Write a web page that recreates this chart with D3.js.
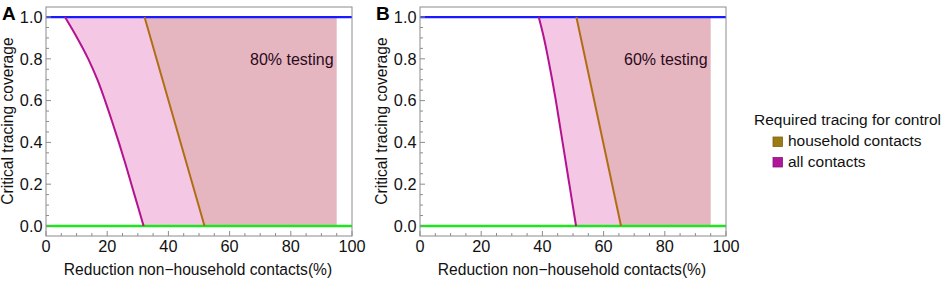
<!DOCTYPE html>
<html><head><meta charset="utf-8">
<script src="https://cdn.jsdelivr.net/npm/d3@7"></script>
<style>
body{margin:0;background:#fff;}
svg{display:block;font-family:"Liberation Sans",Arial,Helvetica,sans-serif;}
</style></head>
<body>
<svg id="chart" width="941" height="281"></svg>
<script>
// ---- data (x = reduction %, y = critical tracing coverage) ----
const panelLabels = ["A", "B"];
const testingLabels = ["80% testing", "60% testing"];
const allContactsA = [[6.2,1],[10.2,0.9],[13.8,0.8],[16.8,0.7],[19.3,0.6],[21.6,0.5],[23.8,0.4],[25.9,0.3],[27.9,0.2],[29.9,0.1],[31.9,0]];
const householdA   = [[32.2,1],[42.0,0.5],[51.8,0]];
const allContactsB = [[38.8,1],[40.5,0.9],[41.9,0.8],[43.2,0.7],[44.4,0.6],[45.5,0.5],[46.6,0.4],[48.8,0.2],[51.0,0]];
const householdB   = [[51.1,1],[58.4,0.5],[65.7,0]];
const fillEnd = [95, 95];
const xTicks = [0, 20, 40, 60, 80, 100];
const yTicks = [0, 0.2, 0.4, 0.6, 0.8, 1.0];
const legendTitle = "Required tracing for control";
const legendItems = ["household contacts", "all contacts"];

const colors = {
  all: "#b5128f", house: "#b06e14", lightFill: "#f4c8e5", darkFill: "#e6b6c0",
  blue: "#1a1aff", green: "#1ee61e", frame: "#8c8c8c",
  legHouse: "#9c7a14", legAll: "#b0169a"
};

const svg = d3.select("#chart");
const panels = [
  {left: 46, all: allContactsA, house: householdA},
  {left: 420, all: allContactsB, house: householdB}
];

panels.forEach((p, i) => {
  const x = d3.scaleLinear().domain([0, 100]).range([p.left, p.left + 306]);
  const y = d3.scaleLinear().domain([-0.048, 1.048]).range([236, 7]);
  const g = svg.append("g");

  const curveLine = d3.line().x(d => x(d[0])).y(d => y(d[1])).curve(d3.curveMonotoneY);
  const allSorted = p.all.slice().sort((a, b) => a[1] - b[1]);   // ascending y
  const allPath = curveLine(allSorted);
  const houseLine = d3.line().x(d => x(d[0])).y(d => y(d[1]));

  // fills: light between magenta curve and brown line, dark from brown line to fillEnd
  const housePts = p.house.map(d => [x(d[0]), y(d[1])]);   // y descending: 1 -> 0
  g.append("path")
    .attr("d", allPath + "L" + housePts.map(q => q.join(",")).join("L") + "Z")
    .attr("fill", colors.lightFill);
  g.append("path")
    .attr("d", d3.line()(housePts.concat([[x(fillEnd[i]), y(0)], [x(fillEnd[i]), y(1)]])) + "Z")
    .attr("fill", colors.darkFill);

  // horizontal lines
  g.append("line").attr("x1", x(0)).attr("x2", x(100)).attr("y1", y(1)).attr("y2", y(1))
    .attr("stroke", colors.blue).attr("stroke-width", 2.2);
  g.append("line").attr("x1", x(0)).attr("x2", x(100)).attr("y1", y(0)).attr("y2", y(0))
    .attr("stroke", colors.green).attr("stroke-width", 2.6);

  // curves
  g.append("path").attr("d", allPath)
    .attr("fill", "none").attr("stroke", colors.all).attr("stroke-width", 2);
  g.append("path").attr("d", houseLine(p.house))
    .attr("fill", "none").attr("stroke", colors.house).attr("stroke-width", 2);

  // frame
  g.append("rect").attr("x", x(0)).attr("y", 7).attr("width", x(100) - x(0)).attr("height", 229)
    .attr("fill", "none").attr("stroke", colors.frame).attr("stroke-width", 1);

  // x ticks (inward)
  d3.range(0, 101, 5).forEach(v => {
    const major = v % 20 === 0;
    g.append("line").attr("x1", x(v)).attr("x2", x(v)).attr("y1", 236).attr("y2", 236 - (major ? 5 : 3))
      .attr("stroke", colors.frame);
  });
  xTicks.forEach(v => {
    g.append("text").attr("x", x(v)).attr("y", 252).attr("text-anchor", "middle")
      .attr("font-size", 16.3).attr("fill", "#111").text(v);
  });
  // y ticks (inward)
  d3.range(0, 21).map(k => k * 0.05).forEach(v => {
    const major = Math.round(v * 100) % 20 === 0;
    g.append("line").attr("x1", x(0)).attr("x2", x(0) + (major ? 5 : 3)).attr("y1", y(v)).attr("y2", y(v))
      .attr("stroke", colors.frame);
  });
  yTicks.forEach(v => {
    g.append("text").attr("x", x(0) - 3.5).attr("y", y(v) + 5.7).attr("text-anchor", "end")
      .attr("font-size", 16.3).attr("fill", "#111").text(v.toFixed(1));
  });

  // axis titles
  g.append("text").attr("x", (x(0) + x(100)) / 2 - 1).attr("y", 275).attr("text-anchor", "middle")
    .attr("font-size", 15.6).attr("fill", "#111").text("Reduction non\u2212household contacts(%)");
  g.append("text").attr("transform", `translate(${p.left - 33},121) rotate(-90)`).attr("text-anchor", "middle")
    .attr("font-size", 15.6).attr("fill", "#111").text("Critical tracing coverage");

  // panel label
  g.append("text").attr("x", p.left - 44).attr("y", 20).attr("font-size", 19).attr("font-weight", "bold")
    .attr("fill", "#000").text(panelLabels[i]);

  // testing label
  g.append("text").attr("x", p.left + 204).attr("y", 65).attr("font-size", 16).attr("fill", "#2a0a1c")
    .text(testingLabels[i]);
});

// legend
const leg = svg.append("g");
leg.append("text").attr("x", 754).attr("y", 125).attr("font-size", 15.5).attr("fill", "#111").text(legendTitle);
const legCols = [colors.legHouse, colors.legAll];
legendItems.forEach((t, k) => {
  leg.append("rect").attr("x", 773).attr("y", 137 + k * 20.5).attr("width", 9.5).attr("height", 9.5)
    .attr("fill", legCols[k]).attr("stroke", d3.color(legCols[k]).darker(0.6)).attr("stroke-width", 0.8);
  leg.append("text").attr("x", 788).attr("y", 146 + k * 20.5).attr("font-size", 15.5).attr("fill", "#111").text(t);
});
</script>
</body></html>
